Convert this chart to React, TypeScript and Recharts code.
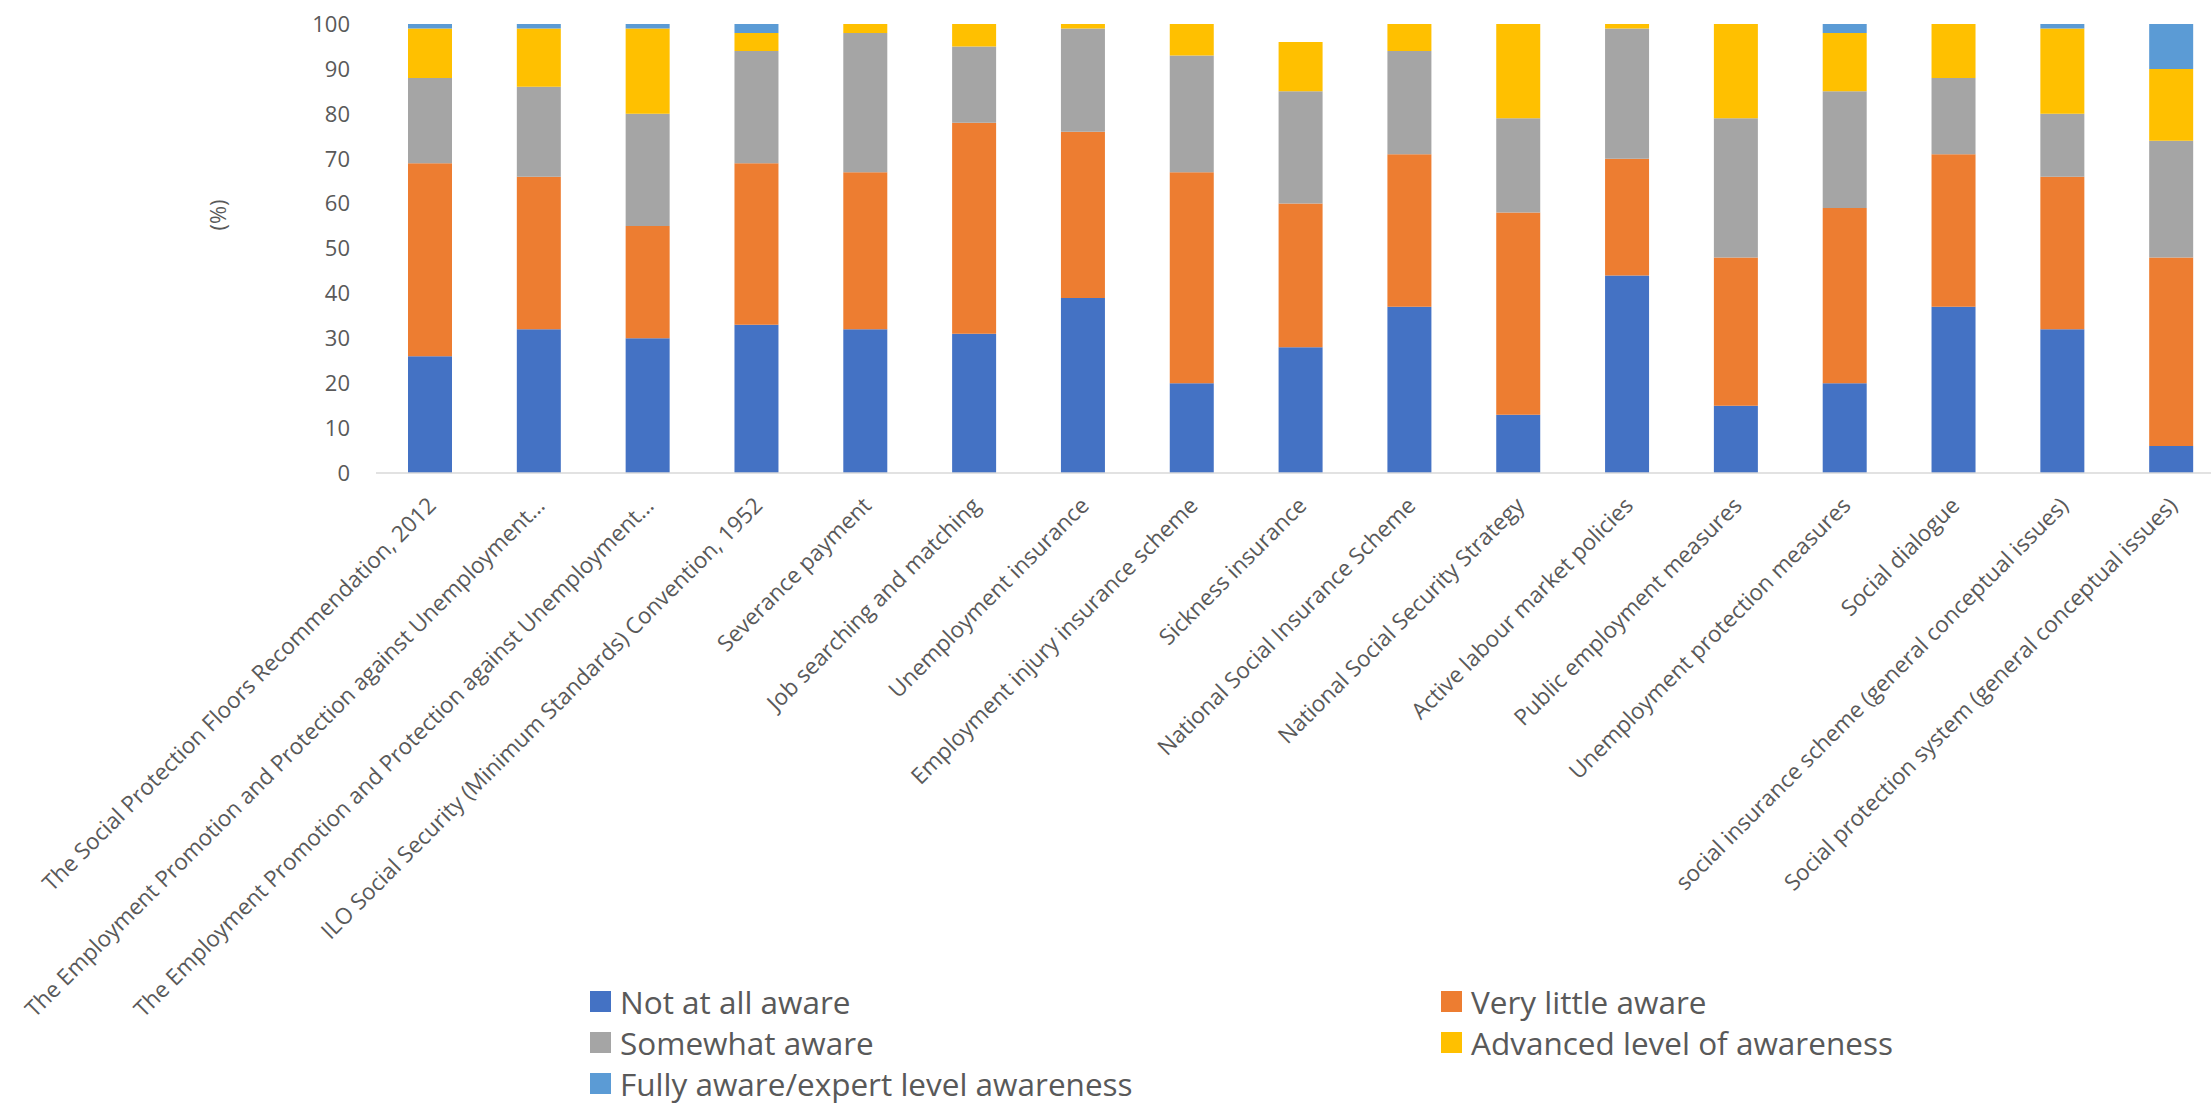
import { Bar, BarChart, Legend, XAxis, YAxis } from "recharts"

// categorias (eje X)
const categories = [
    "The Social Protection Floors Recommendation, 2012",
    "The Employment Promotion and Protection against Unemployment…",
    "The Employment Promotion and Protection against Unemployment…",
    "ILO Social Security (Minimum Standards) Convention, 1952",
    "Severance payment",
    "Job searching and matching",
    "Unemployment insurance",
    "Employment injury insurance scheme",
    "Sickness insurance",
    "National Social Insurance Scheme",
    "National Social Security Strategy",
    "Active labour market policies",
    "Public employment measures",
    "Unemployment protection measures",
    "Social dialogue",
    "social insurance scheme (general conceptual issues)",
    "Social protection system (general conceptual issues)",
]

const notAware = [26, 32, 30, 33, 32, 31, 39, 20, 28, 37, 13, 44, 15, 20, 37, 32, 6]
const veryLittle = [43, 34, 25, 36, 35, 47, 37, 47, 32, 34, 45, 26, 33, 39, 34, 34, 42]
const somewhat = [19, 20, 25, 25, 31, 17, 23, 26, 25, 23, 21, 29, 31, 26, 17, 14, 26]
const advanced = [11, 13, 19, 4, 2, 5, 1, 7, 11, 6, 21, 1, 21, 13, 12, 19, 16]
const fully = [1, 1, 1, 2, 0, 0, 0, 0, 0, 0, 0, 0, 0, 2, 0, 1, 10]

const yTicks = [0, 10, 20, 30, 40, 50, 60, 70, 80, 90, 100]

const series = [
    { key: "notAware", name: "Not at all aware", color: "#4472C4" },
    { key: "veryLittle", name: "Very little aware", color: "#ED7D31" },
    { key: "somewhat", name: "Somewhat aware", color: "#A5A5A5" },
    { key: "advanced", name: "Advanced level of awareness", color: "#FFC000" },
    { key: "fully", name: "Fully aware/expert level awareness", color: "#5B9BD5" },
]

const data = categories.map((name, i) => ({
    name,
    notAware: notAware[i],
    veryLittle: veryLittle[i],
    somewhat: somewhat[i],
    advanced: advanced[i],
    fully: fully[i],
}))

const FONT = "'Open Sans', 'Noto Sans', sans-serif"
const TEXT = "#595959"

const XTick = ({ x, y, payload }: { x: number, y: number, payload: { value: string } }) => (
    <g transform={`translate(${x + 7},${y + 26})`}>
        <text x={0} y={0} textAnchor="end" transform="rotate(-45)" fill={TEXT} fontSize={22.5} fontFamily={FONT}>
            {payload.value}
        </text>
    </g>
)

const renderLegend = ({ payload }: { payload?: Array<{ value: string, color: string }> }) => {
    // mantener el orden de las series
    const items = [...(payload || [])].sort(
        (a, b) => series.findIndex((s) => s.name === a.value) - series.findIndex((s) => s.name === b.value)
    )
    return (
        <div style={{
            height: 135, boxSizing: "border-box", paddingTop: 8, paddingLeft: 590,
            display: "grid", gridTemplateColumns: "851px auto", gridAutoRows: "41px",
            fontFamily: FONT, fontSize: 31.5, color: TEXT, lineHeight: 1,
        }}>
            {items.map((p) => (
                <div key={p.value} style={{ display: "flex", alignItems: "center", whiteSpace: "nowrap" }}>
                    <span style={{ width: 21, height: 21, background: p.color, marginRight: 9, flex: "none" }} />
                    <span>{p.value}</span>
                </div>
            ))}
        </div>
    )
}

export default function App() {
    return (
        <div style={{ position: "fixed", left: 0, top: 0, width: 2211, height: 1108, overflow: "hidden", background: "#fff" }}>
            <BarChart width={2226} height={1108} data={data} margin={{ top: 24, right: 0, left: 0, bottom: 0 }}>
                <XAxis
                    dataKey="name"
                    interval={0}
                    height={500}
                    tickLine={false}
                    axisLine={{ stroke: "#D9D9D9", strokeWidth: 1.5 }}
                    tick={XTick}
                />
                <YAxis
                    width={376}
                    domain={[0, 100]}
                    ticks={yTicks}
                    tickLine={false}
                    axisLine={false}
                    tickMargin={20}
                    tick={{ fill: TEXT, fontSize: 22, fontFamily: FONT }}
                    label={{
                        content: () => (
                            <text x={217} y={215} transform="rotate(-90 217 215)" textAnchor="middle"
                                dominantBaseline="central" fill={TEXT} fontSize={22} fontFamily={FONT}>(%)</text>
                        ),
                    }}
                />
                <Legend verticalAlign="bottom" content={renderLegend} />
                {series.map((s) => (
                    <Bar key={s.key} dataKey={s.key} name={s.name} stackId="a" fill={s.color} barSize={44} isAnimationActive={false} />
                ))}
            </BarChart>
        </div>
    )
}
